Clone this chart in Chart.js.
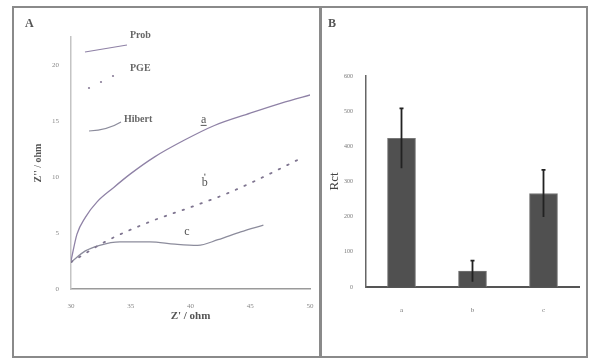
<!DOCTYPE html>
<html><head><meta charset="utf-8">
<script src="https://cdn.jsdelivr.net/npm/chart.js@4.4.0/dist/chart.umd.min.js"></script>
<style>
html,body{margin:0;padding:0;background:#fff;width:590px;height:359px;overflow:hidden;}
.panel{position:absolute;box-sizing:border-box;border:2px solid #8a8a8a;}
#pA{left:12px;top:6px;width:310px;height:352px;}
#pB{left:319px;top:6px;width:269px;height:352px;}
canvas{position:absolute;}
#cA{left:13px;top:7px;}
#cB{left:320px;top:7px;}
</style></head>
<body>
<div class="panel" id="pA"></div>
<div class="panel" id="pB"></div>
<canvas id="cA" width="307" height="350"></canvas>
<canvas id="cB" width="266" height="350"></canvas>
<script>
// ---- Panel A: Nyquist data ----
const probX = [30, 30.5, 31.2, 32.2, 33.5, 35, 37, 39.5, 42, 45, 47.6, 50.25];
const probY = [2.5, 4.9, 6.4, 7.8, 9.0, 10.3, 11.8, 13.3, 14.6, 15.7, 16.6, 17.4];
const pgeX = [30, 33, 36.6, 40, 43, 45.3, 47.8, 49.1];
const pgeY = [2.4, 4.3, 6.0, 7.3, 8.5, 9.6, 10.9, 11.6];
const hibX = [30, 31.2, 32.4, 34.1, 36.6, 38.7, 40.6, 42.3, 44.2, 46.1];
const hibY = [2.4, 3.4, 3.9, 4.2, 4.2, 4.0, 3.9, 4.4, 5.1, 5.7];
const xTicksA = [30, 35, 40, 45, 50];
const yTicksA = [0, 5, 10, 15, 20];
const curveLabels = ['a', 'b', 'c'];
const curveLabelX = [41.1, 41.2, 39.7];
const curveLabelY = [15.1, 9.5, 5.1];
const legendNames = ['Prob', 'PGE', 'Hibert'];

// ---- Panel B: Rct bars ----
const categories = ['a', 'b', 'c'];
const rctValues = [423, 45, 266];
const rctErrors = [85, 30, 67];
const yTicksB = [0, 100, 200, 300, 400, 500, 600];

const pts = (xs, ys) => xs.map((x, i) => ({x: x, y: ys[i]}));
const serif = "'Liberation Serif','DejaVu Serif',serif";

const OFFA = {x: 13, y: 7};
const annotA = {
  id: 'annotA',
  afterDatasetsDraw(chart) {
    const ctx = chart.ctx, xs = chart.scales.x, ys = chart.scales.y;
    ctx.save();
    ctx.fillStyle = '#555';
    ctx.font = '12px ' + serif;
    ctx.textAlign = 'center'; ctx.textBaseline = 'middle';
    curveLabels.forEach((t, i) => {
      const px = xs.getPixelForValue(curveLabelX[i]);
      const py = ys.getPixelForValue(curveLabelY[i]);
      ctx.fillText(t, px, py);
      if (i === 0) { ctx.fillRect(px - 3, py + 5, 6, 1); }
      if (i === 1) { ctx.fillRect(px - 0.5, py - 9, 1, 2); }
    });
    const L = (x, y) => [x - OFFA.x, y - OFFA.y];
    ctx.font = 'bold 10px ' + serif;
    ctx.fillStyle = '#666';
    ctx.textAlign = 'left';
    let p = L(130, 35); ctx.fillText(legendNames[0], p[0], p[1]);
    p = L(130, 68); ctx.fillText(legendNames[1], p[0], p[1]);
    p = L(124, 119); ctx.fillText(legendNames[2], p[0], p[1]);
    ctx.strokeStyle = '#8f82a6'; ctx.lineWidth = 1.2;
    ctx.beginPath(); p = L(85, 52); ctx.moveTo(p[0], p[1]); p = L(127, 45); ctx.lineTo(p[0], p[1]); ctx.stroke();
    ctx.strokeStyle = '#8c8c9c';
    ctx.beginPath(); p = L(89, 131); ctx.moveTo(p[0], p[1]);
    let c1 = L(108, 130), e = L(121, 122); ctx.quadraticCurveTo(c1[0], c1[1], e[0], e[1]); ctx.stroke();
    ctx.fillStyle = '#8a7f99';
    [[89, 88], [101, 82], [113, 76]].forEach(d => { const q = L(d[0], d[1]); ctx.beginPath(); ctx.arc(q[0], q[1], 1.1, 0, Math.PI * 2); ctx.fill(); });
    ctx.restore();
  }
};

new Chart(document.getElementById('cA'), {
  type: 'scatter',
  data: {
    datasets: [
      {label: legendNames[0], data: pts(probX, probY), showLine: true, borderColor: '#8f82a6', borderWidth: 1.3, pointRadius: 0, cubicInterpolationMode: 'monotone'},
      {label: legendNames[1], data: pts(pgeX, pgeY), showLine: true, borderColor: '#7f7590', borderWidth: 1.8, borderDash: [1.5, 8], borderCapStyle: 'round', pointRadius: 0, cubicInterpolationMode: 'monotone'},
      {label: legendNames[2], data: pts(hibX, hibY), showLine: true, borderColor: '#8c8c9c', borderWidth: 1.3, pointRadius: 0, cubicInterpolationMode: 'monotone'}
    ]
  },
  options: {
    responsive: false, animation: false, events: [],
    layout: {padding: {left: 0, right: 10, top: 30, bottom: 0}},
    plugins: {legend: {display: false}, tooltip: {enabled: false}},
    scales: {
      x: {
        type: 'linear', min: 30, max: 50,
        afterBuildTicks: s => { s.ticks = xTicksA.map(v => ({value: v})); },
        afterFit: s => { s.height = 68; },
        grid: {display: false},
        border: {display: true, color: '#9a9a9a', width: 1.5},
        ticks: {color: '#888', font: {size: 7, family: serif}, padding: 5},
        title: {display: true, text: "Z' / ohm", color: '#555', font: {size: 11, weight: 'bold', family: serif}, padding: {top: 0, bottom: 34}}
      },
      y: {
        type: 'linear', min: 0, max: 22.5,
        afterBuildTicks: s => { s.ticks = yTicksA.map(v => ({value: v})); },
        afterFit: s => { s.width = 58; },
        grid: {display: false},
        border: {display: true, color: '#c4c4c4', width: 1.5},
        ticks: {color: '#888', font: {size: 7, family: serif}, padding: 4},
        title: {display: true, text: "Z'' / ohm", color: '#555', font: {size: 10, weight: 'bold', family: serif}, padding: {top: 19, bottom: 0}}
      }
    }
  },
  plugins: [annotA]
});

const errBars = {
  id: 'errBars',
  afterDatasetsDraw(chart) {
    const ctx = chart.ctx, ys = chart.scales.y;
    const meta = chart.getDatasetMeta(0);
    ctx.save();
    ctx.strokeStyle = '#222'; ctx.lineWidth = 1.8;
    meta.data.forEach((bar, i) => {
      const top = ys.getPixelForValue(rctValues[i] + rctErrors[i]);
      const bot = ys.getPixelForValue(rctValues[i] - rctErrors[i]);
      ctx.beginPath();
      ctx.moveTo(bar.x, top); ctx.lineTo(bar.x, bot);
      ctx.moveTo(bar.x - 2, top); ctx.lineTo(bar.x + 2, top);
      ctx.stroke();
    });
    ctx.restore();
  }
};

new Chart(document.getElementById('cB'), {
  type: 'bar',
  data: {
    labels: categories,
    datasets: [{data: rctValues, backgroundColor: '#505050', borderColor: '#777', borderWidth: 1, barThickness: 28}]
  },
  options: {
    responsive: false, animation: false, events: [],
    layout: {padding: {left: 0, right: 7, top: 69, bottom: 0}},
    plugins: {legend: {display: false}, tooltip: {enabled: false}},
    scales: {
      x: {
        afterFit: s => { s.height = 70; },
        grid: {display: false},
        border: {display: true, color: '#555', width: 2},
        ticks: {color: '#777', font: {size: 7, family: serif}, padding: 11}
      },
      y: {
        min: 0, max: 600,
        afterBuildTicks: s => { s.ticks = yTicksB.map(v => ({value: v})); },
        afterFit: s => { s.width = 46; },
        grid: {display: false},
        border: {display: true, color: '#666', width: 1.5},
        ticks: {color: '#777', font: {size: 6, family: serif}, padding: 5},
        title: {display: true, text: 'Rct', color: '#444', font: {size: 13, family: serif}, padding: {top: 7, bottom: 0}}
      }
    }
  },
  plugins: [errBars]
});

const letters = {A: [30, 24], B: [333, 24]};
Object.keys(letters).forEach(k => {
  const d = document.createElement('div');
  d.textContent = k;
  d.style.cssText = 'position:absolute;font:bold 12px ' + serif + ';color:#555;left:' + (letters[k][0] - 5) + 'px;top:' + (letters[k][1] - 8) + 'px;';
  document.body.appendChild(d);
});
</script>
</body></html>
